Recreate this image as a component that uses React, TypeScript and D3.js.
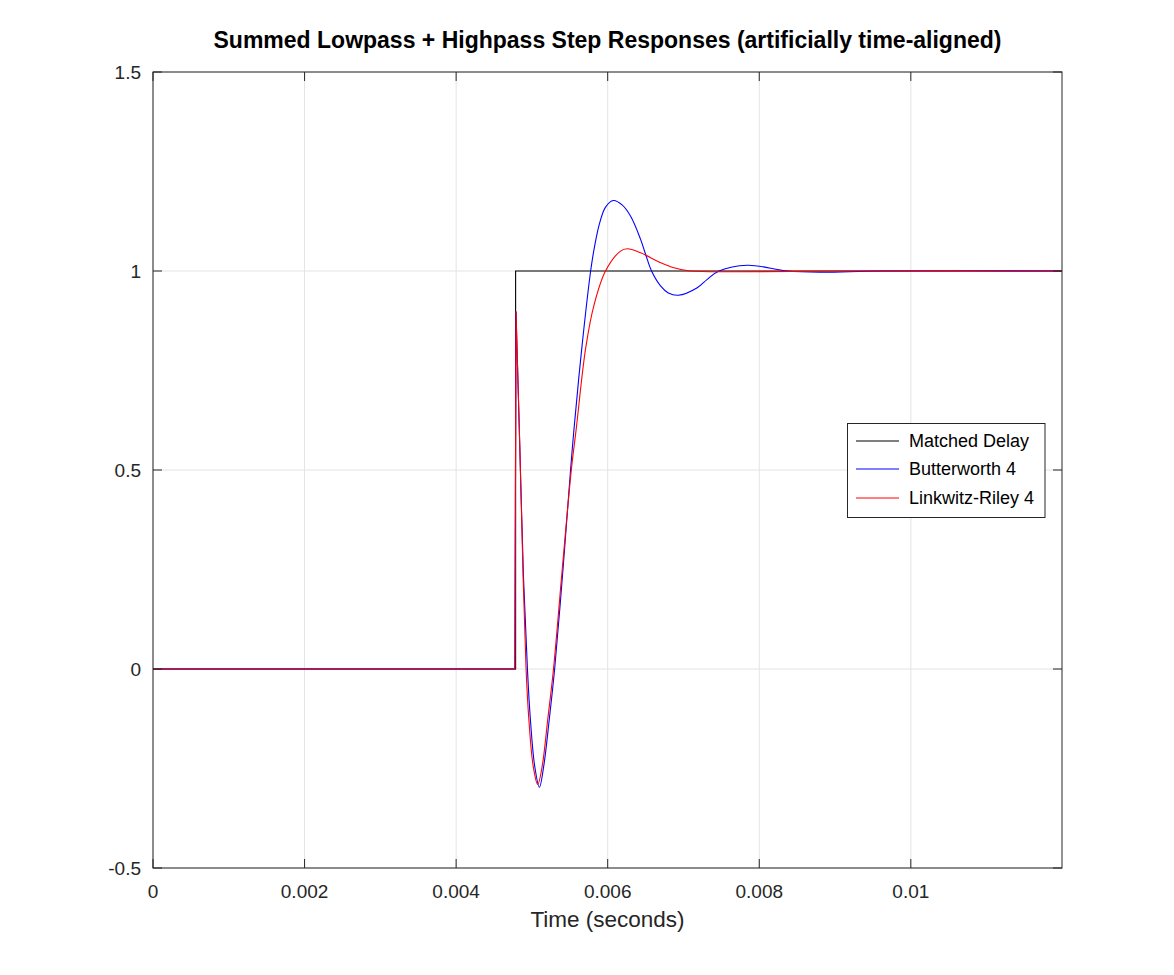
import React from "react";
import * as d3 from "d3";

// Time in milliseconds
const delayT = [0, 4.785, 4.785, 12];
const delayV = [0, 0, 1, 1];

// first three points of each response: flat part and the jump (drawn straight)
const butterT = [0, 4.775, 4.79, 4.84, 4.888, 4.941, 4.977, 5.037, 5.099, 5.156, 5.23, 5.30, 5.41, 5.51, 5.555, 5.655, 5.775, 5.83, 5.89, 5.97, 6.075, 6.19, 6.301, 6.433, 6.5, 6.579, 6.7, 6.8, 6.931, 7.182, 7.314, 7.468, 7.843, 8.371, 8.811, 9.6, 12];
const butterV = [0, 0, 0.898, 0.56, 0.235, 0, -0.119, -0.244, -0.297, -0.244, -0.125, 0, 0.25, 0.5, 0.602, 0.8, 1.0, 1.065, 1.118, 1.16, 1.177, 1.166, 1.138, 1.08, 1.042, 1.0, 0.962, 0.945, 0.939, 0.958, 0.979, 1.0, 1.0146, 1.0, 0.997, 1.0, 1.0];

const lrT = [0, 4.775, 4.79, 4.84, 4.885, 4.923, 4.957, 5.017, 5.077, 5.136, 5.21, 5.285, 5.40, 5.52, 5.584, 5.707, 5.816, 5.971, 6.169, 6.258, 6.433, 6.697, 6.873, 7.094, 7.75, 9.2, 12];
const lrV = [0, 0, 0.898, 0.56, 0.225, 0, -0.119, -0.244, -0.29, -0.244, -0.125, 0, 0.25, 0.5, 0.602, 0.803, 0.912, 1.0, 1.05, 1.056, 1.046, 1.021, 1.008, 1.0, 0.998, 1.0, 1.0];

const xTicks = [0, 0.002, 0.004, 0.006, 0.008, 0.01];
const xTickLabels = ["0", "0.002", "0.004", "0.006", "0.008", "0.01"];
const yTicks = [-0.5, 0, 0.5, 1, 1.5];
const yTickLabels = ["-0.5", "0", "0.5", "1", "1.5"];

const seriesNames = ["Matched Delay", "Butterworth 4", "Linkwitz-Riley 4"];
const seriesColors = ["#000000", "#0000ff", "#ff0000"];

const titleText = "Summed Lowpass + Highpass Step Responses (artificially time-aligned)";
const xLabel = "Time (seconds)";

const W = 1174, H = 975;
const L = 153, R = 1062, T = 72, B = 868;
const FONT = "'Liberation Sans', Arial, Helvetica, sans-serif";

export default function App() {
  const x = d3.scaleLinear().domain([0, 0.011995]).range([L, R]);
  const y = d3.scaleLinear().domain([-0.5, 1.5]).range([B, T]);

  const seg = (ts: number[], vs: number[], curve: any) =>
    d3.line<number>()
      .x((_, i) => x(ts[i] / 1000))
      .y((_, i) => y(vs[i]))
      .curve(curve)(vs) || "";

  // straight for the flat part and the jump, smooth afterwards
  const resp = (ts: number[], vs: number[]) =>
    seg(ts.slice(0, 3), vs.slice(0, 3), d3.curveLinear) +
    seg(ts.slice(2), vs.slice(2), d3.curveCatmullRom.alpha(0.5));

  const paths = [
    seg(delayT, delayV, d3.curveLinear),
    resp(butterT, butterV),
    resp(lrT, lrV),
  ];

  const tl = 9;
  const legX = 847.5, legY = 423.5, legW = 197.5, legH = 94;
  const legRows = [441, 469, 498];

  return (
    <svg width={W} height={H} style={{ position: "absolute", left: 0, top: 0, background: "#fff" }} fontFamily={FONT}>
      <rect x={0} y={0} width={W} height={H} fill="#fff" />
      {xTicks.map((t, i) => (
        <line key={"gx" + i} x1={x(t)} x2={x(t)} y1={T} y2={B} stroke="#e3e3e3" strokeWidth={1} />
      ))}
      {yTicks.map((t, i) => (
        <line key={"gy" + i} x1={L} x2={R} y1={y(t)} y2={y(t)} stroke="#e3e3e3" strokeWidth={1} />
      ))}
      <defs>
        <clipPath id="clip"><rect x={L} y={T} width={R - L} height={B - T} /></clipPath>
      </defs>
      <g clipPath="url(#clip)" fill="none" strokeWidth={1.1}>
        <path d={paths[0]} stroke={seriesColors[0]} />
        <path d={paths[1]} stroke={seriesColors[1]} />
        <path d={paths[2]} stroke={seriesColors[2]} />
      </g>
      {xTicks.map((t, i) => (
        <g key={"tx" + i}>
          <line x1={x(t)} x2={x(t)} y1={B} y2={B - tl} stroke="#262626" />
          <line x1={x(t)} x2={x(t)} y1={T} y2={T + tl} stroke="#262626" />
          <text x={x(t)} y={898} fontSize={19} textAnchor="middle" fill="#262626">{xTickLabels[i]}</text>
        </g>
      ))}
      {yTicks.map((t, i) => (
        <g key={"ty" + i}>
          <line x1={L} x2={L + tl} y1={y(t)} y2={y(t)} stroke="#262626" />
          <line x1={R} x2={R - tl} y1={y(t)} y2={y(t)} stroke="#262626" />
          <text x={141} y={y(t)} dy="0.35em" fontSize={19} textAnchor="end" fill="#262626">{yTickLabels[i]}</text>
        </g>
      ))}
      <rect x={L} y={T} width={R - L} height={B - T} fill="none" stroke="#262626" strokeWidth={1} />
      <text x={(L + R) / 2} y={927} fontSize={22.5} textAnchor="middle" fill="#262626">{xLabel}</text>
      <text x={(L + R) / 2} y={48} fontSize={23} fontWeight="bold" textAnchor="middle" fill="#000">{titleText}</text>
      <rect x={legX} y={legY} width={legW} height={legH} fill="#fff" stroke="#262626" strokeWidth={1} />
      {seriesNames.map((n, i) => {
        const ry = legRows[i];
        return (
          <g key={"lg" + i}>
            <line x1={856} x2={899} y1={ry} y2={ry} stroke={seriesColors[i]} strokeWidth={1} />
            <text x={909} y={ry} dy="0.35em" fontSize={18} fill="#000">{n}</text>
          </g>
        );
      })}
    </svg>
  );
}
